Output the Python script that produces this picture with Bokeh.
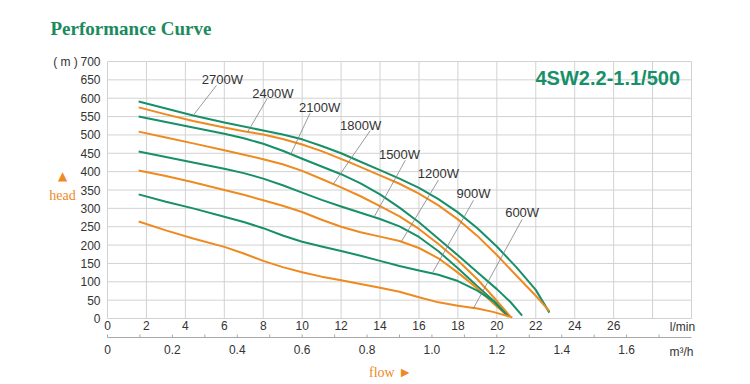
from bokeh.plotting import figure
from bokeh.models import LinearAxis, Range1d, FixedTicker, Label
from bokeh.embed import file_html
from bokeh.resources import INLINE

GREEN = "#17906a"
ORANGE = "#ee8a1f"
TXT = "#333333"
GRID = "#d2d2d2"

# ---- data (flow l/min, head m) ----
q_2700 = [1.6, 3, 4.4, 6, 8, 9, 10, 11, 12, 13, 14, 15, 16, 17, 18, 19, 20, 21, 22, 22.7]
h_2700 = [591, 572, 553, 534, 512, 501, 488, 470, 450, 427, 404, 381, 356, 325, 289, 246, 196, 140, 78, 16]

q_2400 = [1.6, 3, 4.4, 6, 7, 8, 9, 10, 11, 12.5, 14, 15, 16, 17, 18, 19, 20, 21, 22, 22.7]
h_2400 = [575, 556, 538, 520, 510, 501, 489, 474, 456, 424, 390, 367, 340, 308, 270, 225, 173, 117, 62, 20]

q_2100 = [1.6, 3, 4.4, 6, 7, 8, 9, 10, 11, 12, 13, 14, 15, 16, 17, 18, 19, 20, 20.7, 21.3]
h_2100 = [550, 535, 520, 503, 491, 476, 457, 435, 414, 393, 368, 338, 302, 262, 217, 172, 126, 80, 45, 8]

q_1800 = [1.6, 3, 4.4, 6, 8, 9, 10, 11, 12, 13, 14, 15, 16, 17, 18, 19, 19.8, 20.7]
h_1800 = [509, 493, 477, 458, 434, 420, 402, 380, 357, 333, 306, 278, 244, 203, 158, 107, 60, 5]

q_1500 = [1.6, 3, 4.4, 6, 7, 8, 9, 10, 11, 12, 13, 14, 15, 16, 17, 18, 19, 20, 20.6]
h_1500 = [455, 440, 425, 408, 396, 381, 363, 343, 323, 305, 288, 271, 251, 222, 183, 137, 88, 40, 5]

q_1200 = [1.6, 3, 4.4, 6, 7, 8, 9, 10, 11, 12, 13, 14, 15, 16, 17, 18, 19, 19.8, 20.6]
h_1200 = [403, 388, 371, 350, 337, 322, 307, 290, 269, 250, 235, 223, 211, 192, 164, 125, 82, 42, 5]

q_900 = [1.6, 3, 4.4, 6, 7, 8, 9, 10, 11, 12, 13, 14, 15, 16, 17, 18, 19, 19.8, 20.6]
h_900 = [338, 318, 300, 277, 263, 246, 226, 209, 196, 184, 171, 157, 143, 131, 119, 102, 76, 48, 5]

q_600 = [1.6, 3, 4.4, 6, 7, 8, 9, 10, 11, 12, 13, 14, 15, 16, 17, 18, 19, 19.8, 20.8]
h_600 = [264, 240, 218, 195, 177, 157, 140, 126, 114, 104, 94, 84, 73, 58, 44, 35, 27, 18, 3]

series_names = ["2700W", "2400W", "2100W", "1800W", "1500W", "1200W", "900W", "600W"]
series_q = [q_2700, q_2400, q_2100, q_1800, q_1500, q_1200, q_900, q_600]
series_h = [h_2700, h_2400, h_2100, h_1800, h_1500, h_1200, h_900, h_600]
series_colors = [GREEN, ORANGE, GREEN, ORANGE, GREEN, ORANGE, GREEN, ORANGE]

# label positions (text) and leader line ends, in chart units
label_x = [5.9, 8.5, 10.9, 13.0, 15.0, 17.0, 18.8, 21.3]
label_y = [651, 613, 575, 526, 447, 395, 340, 289]
lead_x0 = [5.6, 8.2, 10.4, 13.5, 15.3, 17.0, 18.8, 21.3]
lead_y0 = [635, 599, 559, 512, 431, 377, 322, 270]
lead_x1 = [4.4, 7.2, 9.4, 11.6, 13.7, 15.1, 16.7, 18.8]
lead_y1 = [553, 508, 446, 366, 277, 210, 125, 28]

flow_ticks = list(range(0, 27, 2))
grid_x = list(range(0, 31, 2))
head_ticks = list(range(0, 701, 50))
m3h_ticks = [0, 0.2, 0.4, 0.6, 0.8, 1.0, 1.2, 1.4, 1.6]
m3h_minor = [0.1, 0.3, 0.5, 0.7, 0.9, 1.1, 1.3, 1.5, 1.7]
m3h_labels = ["0", "0.2", "0.4", "0.6", "0.8", "1.0", "1.2", "1.4", "1.6"]
LMIN_PER_M3H = 1000.0 / 60.0

# layout: the frame fills the canvas; chart area is placed inside it
W, H = 748, 382
FX0, FX1 = 107, 691      # pixel span of 0..30 l/min
FY0, FY1 = 318, 61       # pixel span of 0..700 m
XS = (FX1 - FX0) / 30.0
YS = (FY0 - FY1) / 700.0


def dx(px):
    return (px - FX0) / XS


def dy(py):
    return (FY0 - py) / YS


p = figure(width=W, height=H, x_range=Range1d(dx(0), dx(W)), y_range=Range1d(dy(H), dy(0)),
           output_backend="svg", toolbar_location=None, min_border=0)
p.outline_line_color = None
p.background_fill_color = "white"
p.border_fill_color = "white"
p.xgrid.grid_line_color = None
p.ygrid.grid_line_color = None

FONT = "Liberation Sans"

# grid drawn over the chart area only
p.segment(x0=grid_x, x1=grid_x, y0=[0] * len(grid_x), y1=[700] * len(grid_x),
          line_color=GRID, line_width=1)
p.segment(x0=[0] * len(head_ticks), x1=[30] * len(head_ticks), y0=head_ticks, y1=head_ticks,
          line_color=GRID, line_width=1)

# primary x axis (l/min)
xa = p.xaxis[0]
xa.fixed_location = 0
xa.ticker = FixedTicker(ticks=flow_ticks)
xa.axis_line_color = None
xa.major_tick_line_color = None
xa.minor_tick_line_color = None
xa.major_tick_out = 0
xa.major_tick_in = 0
xa.minor_tick_out = 0
xa.major_label_standoff = 2
xa.major_label_text_font = FONT
xa.major_label_text_font_size = "12px"
xa.major_label_text_color = TXT

ya = p.yaxis[0]
ya.fixed_location = 0
ya.ticker = FixedTicker(ticks=head_ticks)
ya.axis_line_color = None
ya.major_tick_line_color = None
ya.minor_tick_line_color = None
ya.major_tick_out = 0
ya.major_tick_in = 0
ya.minor_tick_out = 0
ya.major_label_standoff = 7
ya.major_label_text_font = FONT
ya.major_label_text_font_size = "12px"
ya.major_label_text_color = TXT

# secondary x axis (m3/h)
AX2_Y = dy(337)
p.extra_x_ranges = {"m3h": Range1d(dx(0) / LMIN_PER_M3H, dx(W) / LMIN_PER_M3H)}
ax2 = LinearAxis(x_range_name="m3h", fixed_location=AX2_Y,
                 ticker=FixedTicker(ticks=m3h_ticks),
                 major_label_overrides={t: s for t, s in zip(m3h_ticks, m3h_labels)})
ax2.axis_line_color = None
ax2.major_tick_line_color = None
ax2.minor_tick_line_color = None
ax2.major_tick_in = 0
ax2.major_tick_out = 0
ax2.minor_tick_in = 0
ax2.minor_tick_out = 0
ax2.major_label_standoff = 7
ax2.major_label_text_font = FONT
ax2.major_label_text_font_size = "12px"
ax2.major_label_text_color = TXT
p.add_layout(ax2, "below")

# m3/h axis line and its small ticks (drawn in the l/min scale)
AXC = "#a8a8a8"
TICK_H = 3 / YS
m3h_all = m3h_ticks + m3h_minor
m3h_all_lmin = [v * LMIN_PER_M3H for v in m3h_all]
p.segment(x0=[0], x1=[30], y0=[AX2_Y], y1=[AX2_Y], line_color=AXC, line_width=1)
p.segment(x0=m3h_all_lmin, x1=m3h_all_lmin, y0=[AX2_Y] * len(m3h_all),
          y1=[AX2_Y + TICK_H] * len(m3h_all), line_color=AXC, line_width=1)

# curves
for qs, hs, c in zip(series_q, series_h, series_colors):
    p.line(qs, hs, line_color=c, line_width=2, line_join="round")

# leader lines and labels
p.segment(x0=lead_x0, y0=lead_y0, x1=lead_x1, y1=lead_y1, line_color="#808080", line_width=0.8)
for name, lx, ly in zip(series_names, label_x, label_y):
    p.add_layout(Label(x=lx, y=ly, text=name, text_align="center", text_baseline="middle",
                       text_font=FONT, text_font_size="13px", text_color=TXT))


def px_label(x, y, text, **kw):
    p.add_layout(Label(x=dx(x), y=dy(y), text=text, **kw))


px_label(50, 28, "Performance Curve", text_align="left", text_baseline="middle",
         text_font="Liberation Serif", text_font_style="bold", text_font_size="19px",
         text_color="#1b8a5c")
px_label(535, 77, "4SW2.2-1.1/500", text_align="left", text_baseline="middle",
         text_font=FONT, text_font_style="bold", text_font_size="20px", text_color=GREEN)
px_label(65, 61, "( m )", text_align="center", text_baseline="middle",
         text_font=FONT, text_font_size="12px", text_color=TXT)
px_label(62, 175, "▲", text_align="center", text_baseline="middle",
         text_font="DejaVu Sans", text_font_size="12px", text_color=ORANGE)
px_label(62, 195, "head", text_align="center", text_baseline="middle",
         text_font="Liberation Serif", text_font_size="14px", text_color=ORANGE)
px_label(390, 372, "flow ►", text_align="center", text_baseline="middle",
         text_font="Liberation Serif", text_font_size="14px", text_color=ORANGE)
px_label(682, 326, "l/min", text_align="center", text_baseline="middle",
         text_font=FONT, text_font_size="12px", text_color=TXT)
px_label(681, 351, "m³/h", text_align="center", text_baseline="middle",
         text_font=FONT, text_font_size="12px", text_color=TXT)

open("out.html", "w").write(file_html(p, INLINE))
